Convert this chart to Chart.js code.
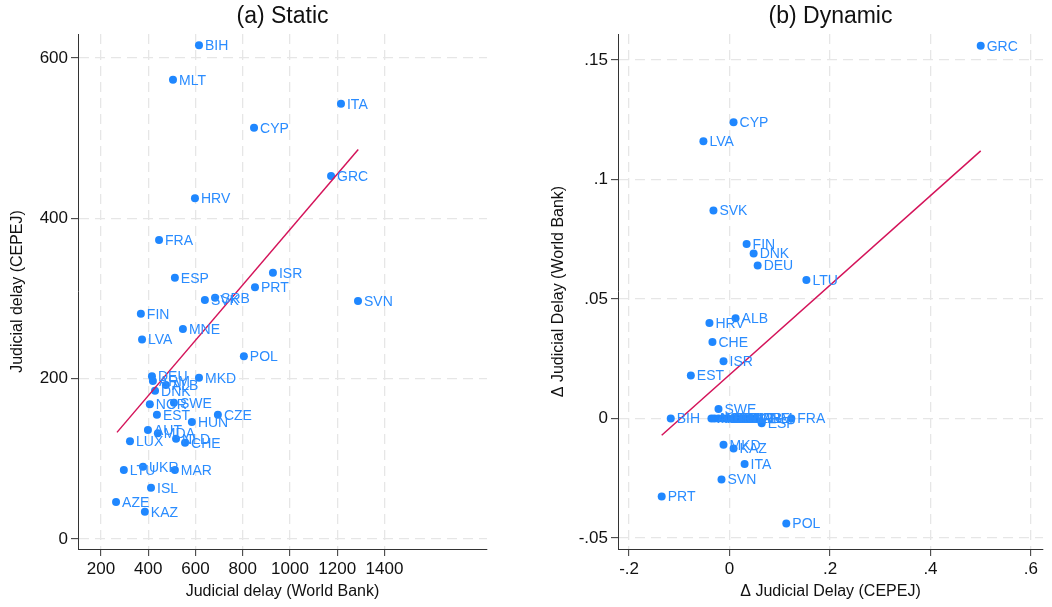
<!DOCTYPE html>
<html lang="en">
<head>
<meta charset="UTF-8">
<title>Judicial delay</title>
<script src="https://cdn.jsdelivr.net/npm/chart.js"></script>
<style>
  body { margin: 0; background: #fff; }
  .panel { position: absolute; top: 0; width: 526px; height: 607px; }
  #left { left: 0; }
  #right { left: 526px; }
</style>
</head>
<body>
<div class="panel" id="left"><canvas id="staticChart" width="526" height="607"></canvas></div>
<div class="panel" id="right"><canvas id="dynamicChart" width="526" height="607"></canvas></div>
<script>
// (a) Static: World Bank delay vs CEPEJ delay
const staticCodes = ['BIH','MLT','ITA','CYP','GRC','HRV','FRA','ESP','ISR','PRT','SVK','SRB','SVN','FIN','MNE','LVA','POL',
  'DEU','MKD','ARM','ALB','DNK','NOR','SWE','EST','CZE','HUN','AUT','MDA','NLD','CHE','LUX','LTU','UKR','MAR','ISL','AZE','KAZ'];
const staticWB = [615,505,1216,848,1174,598,446,513,928,852,640,683,1288,369,547,374,805,
  416,615,420,475,429,407,509,437,695,585,399,441,518,556,323,297,378,513,412,264,386];
const staticCEPEJ = [616,573,543,513,453,425,373,326,332,314,298,301,297,281,262,249,228,
  203,201,197,192,185,168,170,155,155,146,136,132,125,120,122,86,90,86,64,46,34];
const staticFitX = [268, 1289];
const staticFitY = [133, 486];
const staticXTicks = [200, 400, 600, 800, 1000, 1200, 1400];
const staticYTicks = [0, 200, 400, 600];

// (b) Dynamic: changes
const dynamicCodes = ['GRC','CYP','LVA','SVK','FIN','DNK','DEU','LTU','ALB','HRV','CHE','ISR','EST','SWE','BIH',
  'AUT','NOR','NLD','CZE','HUN','LUX','ISL','MLT','SRB','MNE','ARM','ESP','FRA','MKD','KAZ','ITA','SVN','PRT','POL'];
const dynamicCEPEJ = [0.500,0.008,-0.052,-0.032,0.034,0.048,0.056,0.153,0.012,-0.040,-0.034,-0.012,-0.077,-0.022,-0.117,
  -0.036,-0.030,-0.022,-0.012,-0.004,0.006,0.016,0.026,0.036,0.046,0.052,0.064,0.123,-0.012,0.008,0.030,-0.016,-0.135,0.113];
const dynamicWB = [0.156,0.124,0.116,0.087,0.073,0.069,0.064,0.058,0.042,0.040,0.032,0.024,0.018,0.004,0,
  0,0,0,0,0,0,0,0,0,0,0,-0.002,0,-0.011,-0.0125,-0.019,-0.0255,-0.0326,-0.0439];
const dynamicFitX = [-0.135, 0.5];
const dynamicFitY = [-0.007, 0.112];
const dynamicXTicks = [-0.2, 0, 0.2, 0.4, 0.6];
const dynamicYTicks = [-0.05, 0, 0.05, 0.1, 0.15];

const FONT = '"Liberation Sans", Arial, Helvetica, sans-serif';
const BLUE = '#1f87ff';
const LINE = '#d4145a';

// marker labels to the right of each point
const pointLabels = {
  id: 'pointLabels',
  afterDatasetsDraw(chart) {
    const ctx = chart.ctx;
    ctx.save();
    ctx.font = '14px ' + FONT;
    ctx.fillStyle = '#2a8cff';
    ctx.textBaseline = 'middle';
    chart.data.datasets.forEach((ds, i) => {
      if (!ds.codes) return;
      chart.getDatasetMeta(i).data.forEach((pt, j) => {
        ctx.fillText(ds.codes[j], pt.x + 6, pt.y + 1);
      });
    });
    ctx.restore();
  }
};

function fmtStata(v) {
  if (Math.abs(v) < 1e-9) return '0';
  return String(+v.toFixed(3)).replace('0.', '.');
}

function axis(title, min, max, ticks, opts) {
  return {
    type: 'linear',
    min: min,
    max: max,
    afterBuildTicks: s => { s.ticks = ticks.map(v => ({ value: v })); },
    afterFit: opts.fit,
    ticks: {
      color: '#111',
      font: { family: FONT, size: 17 },
      padding: 3,
      autoSkip: false,
      maxRotation: 0,
      callback: opts.fmt || (v => v)
    },
    grid: {
      color: '#e6e6e6',
      lineWidth: 1.3,
      drawTicks: true,
      tickLength: 7,
      tickColor: '#333',
      tickWidth: 1
    },
    border: { display: true, color: '#333', width: 1, dash: [10, 6] },
    title: {
      display: true,
      text: title,
      color: '#111',
      font: { family: FONT, size: 16 },
      padding: opts.titlePad
    }
  };
}

function makeChart(id, cfg) {
  new Chart(document.getElementById(id), {
    type: 'scatter',
    data: {
      datasets: [
        {
          type: 'line',
          data: cfg.fitX.map((x, i) => ({ x: x, y: cfg.fitY[i] })),
          borderColor: LINE,
          borderWidth: 1.5,
          pointRadius: 0,
          fill: false
        },
        {
          data: cfg.xs.map((x, i) => ({ x: x, y: cfg.ys[i] })),
          codes: cfg.codes,
          backgroundColor: BLUE,
          borderWidth: 0,
          pointRadius: 4,
          pointHoverRadius: 4
        }
      ]
    },
    options: {
      responsive: false,
      animation: false,
      layout: { padding: { left: 0, right: cfg.padRight, top: 0, bottom: 0 } },
      plugins: {
        legend: { display: false },
        tooltip: { enabled: false },
        title: {
          display: true,
          text: cfg.title,
          fullSize: false,
          color: '#111',
          font: { family: FONT, size: 23, weight: 'normal' },
          padding: { top: 3, bottom: 3.4 }
        }
      },
      scales: {
        x: axis(cfg.xTitle, cfg.xMin, cfg.xMax, cfg.xTicks, {
          fmt: cfg.fmt,
          titlePad: { top: 0, bottom: 5.4 },
          fit: s => { s.height = 58; }
        }),
        y: axis(cfg.yTitle, cfg.yMin, cfg.yMax, cfg.yTicks, {
          fmt: cfg.fmt,
          titlePad: { top: cfg.yTitlePad, bottom: 0 },
          fit: s => { s.width = cfg.yWidth; }
        })
      }
    },
    plugins: [pointLabels]
  });
}

makeChart('staticChart', {
  title: '(a) Static',
  codes: staticCodes, xs: staticWB, ys: staticCEPEJ,
  fitX: staticFitX, fitY: staticFitY,
  xTitle: 'Judicial delay (World Bank)', yTitle: 'Judicial delay (CEPEJ)',
  xMin: 103, xMax: 1834, yMin: -12.5, yMax: 630,
  xTicks: staticXTicks, yTicks: staticYTicks,
  yWidth: 78, padRight: 39, yTitlePad: 7.5
});

makeChart('dynamicChart', {
  title: '(b) Dynamic',
  codes: dynamicCodes, xs: dynamicCEPEJ, ys: dynamicWB,
  fitX: dynamicFitX, fitY: dynamicFitY,
  xTitle: 'Δ Judicial Delay (CEPEJ)', yTitle: 'Δ Judicial Delay (World Bank)',
  xMin: -0.222, xMax: 0.624, yMin: -0.0546, yMax: 0.1609,
  xTicks: dynamicXTicks, yTicks: dynamicYTicks,
  yWidth: 92, padRight: 9, yTitlePad: 23, fmt: fmtStata
});
</script>
</body>
</html>
